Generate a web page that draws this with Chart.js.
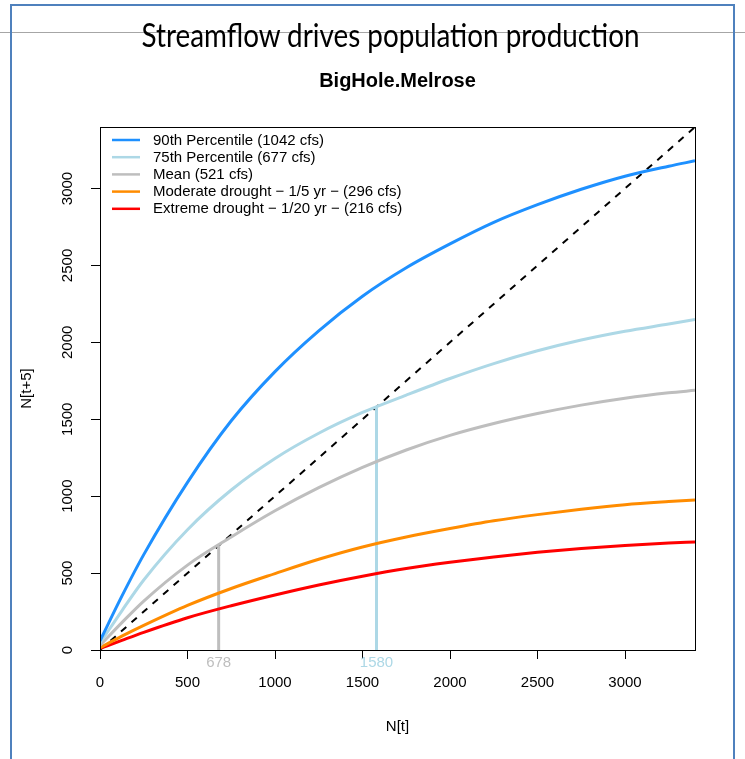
<!DOCTYPE html>
<html>
<head>
<meta charset="utf-8">
<script src="https://cdn.jsdelivr.net/npm/chart.js@4/dist/chart.umd.min.js"></script>
<style>
  html, body { margin: 0; padding: 0; background: #fff; width: 745px; height: 759px; overflow: hidden; }
  #wrap { position: relative; width: 745px; height: 759px; }
  #c { position: absolute; left: 0; top: 0; }
  #deco { position: absolute; left: 0; top: 0; pointer-events: none; }
</style>
</head>
<body>
<div id="wrap">
  <canvas id="c" width="745" height="759"></canvas>
  <svg id="deco" width="745" height="759" xmlns="http://www.w3.org/2000/svg">
    <line x1="0" y1="32.5" x2="745" y2="32.5" stroke="#A6A6A6" stroke-width="1"/>
    <polyline points="11,770 11,5 734,5 734,770" fill="none" stroke="#4F81BD" stroke-width="2"/>
    <text x="390.5" y="47.3" text-anchor="middle" textLength="498" lengthAdjust="spacingAndGlyphs"
          font-family="Lato, 'Open Sans', sans-serif" font-size="32" fill="#000">Streamflow drives population production</text>
    <text x="397.5" y="87.3" text-anchor="middle"
          font-family="'Liberation Sans', Arial, sans-serif" font-weight="bold" font-size="20" fill="#000">BigHole.Melrose</text>
  </svg>
</div>
<script>
// ---------- data ----------
const xValues     = [0, 125, 250, 500, 750, 1000, 1250, 1500, 1750, 2000, 2250, 2500, 2750, 3000, 3250, 3400];
const pct90       = [60, 350, 620, 1090, 1490, 1810, 2075, 2300, 2485, 2640, 2780, 2895, 2995, 3080, 3145, 3180];
const pct75       = [45, 255, 455, 782, 1040, 1245, 1409, 1544, 1657, 1765, 1862, 1945, 2015, 2072, 2119, 2148];
const meanFlow    = [30, 178, 318, 552, 735, 905, 1055, 1187, 1300, 1395, 1472, 1537, 1592, 1637, 1672, 1688];
const modDrought  = [15, 90, 160, 290, 400, 497, 590, 670, 735, 790, 840, 880, 915, 945, 965, 975];
const extDrought  = [10, 63, 115, 210, 288, 358, 423, 480, 530, 570, 605, 635, 660, 680, 695, 702];
const seriesNames = [
  '90th Percentile (1042 cfs)',
  '75th Percentile (677 cfs)',
  'Mean (521 cfs)',
  'Moderate drought \u2212 1/5 yr \u2212 (296 cfs)',
  'Extreme drought \u2212 1/20 yr \u2212 (216 cfs)'
];
const seriesColors = ['#1E90FF', '#ADD8E6', '#BEBEBE', '#FF8C00', '#FF0000'];
const replacementLine = [0, 3400];          // 1:1 line end points (x = y)
const equilibria      = [678, 1580];        // equilibrium N for Mean and 75th
const equilibriaColor = ['#BEBEBE', '#ADD8E6'];
const xTicks = [0, 500, 1000, 1500, 2000, 2500, 3000];
const yTicks = [0, 500, 1000, 1500, 2000, 2500, 3000];
const axisMax = 3400;

// ---------- build datasets ----------
const seriesValues = [pct90, pct75, meanFlow, modDrought, extDrought];
const datasets = [];
seriesValues.forEach((vals, i) => {
  datasets.push({
    label: seriesNames[i],
    data: xValues.map((x, k) => ({ x: x, y: vals[k] })),
    borderColor: seriesColors[i],
    borderWidth: 3,
    pointRadius: 0,
    cubicInterpolationMode: 'monotone',
    fill: false
  });
});
equilibria.forEach((e, i) => {
  datasets.push({
    label: 'eq' + i,
    data: [{ x: e, y: 0 }, { x: e, y: e }],
    borderColor: equilibriaColor[i],
    borderWidth: 3,
    pointRadius: 0,
    fill: false
  });
});
datasets.push({
  label: '1:1',
  data: replacementLine.map(v => ({ x: v, y: v })),
  borderColor: '#000',
  borderWidth: 2,
  borderDash: [7, 7],
  pointRadius: 0,
  fill: false
});

const FONT = "'Liberation Sans', Arial, sans-serif";

const boxPlugin = {
  id: 'box',
  afterDraw(chart) {
    const { ctx, chartArea: a } = chart;
    ctx.save();
    ctx.strokeStyle = '#000';
    ctx.lineWidth = 1;
    ctx.strokeRect(Math.round(a.left) + 0.5, Math.round(a.top) + 0.5, Math.round(a.right - a.left), Math.round(a.bottom - a.top));
    ctx.restore();
  }
};

const legendPlugin = {
  id: 'rlegend',
  afterDraw(chart) {
    const { ctx, chartArea: a } = chart;
    ctx.save();
    ctx.font = '15px ' + FONT;
    ctx.textBaseline = 'middle';
    ctx.textAlign = 'left';
    seriesNames.forEach((name, i) => {
      const y = a.top + 13 + i * 17.2;
      ctx.strokeStyle = seriesColors[i];
      ctx.lineWidth = 2.5;
      ctx.beginPath();
      ctx.moveTo(a.left + 12, y);
      ctx.lineTo(a.left + 40, y);
      ctx.stroke();
      ctx.fillStyle = '#000';
      ctx.fillText(name, a.left + 53, y + 0.5);
    });
    ctx.restore();
  }
};

const eqLabelPlugin = {
  id: 'eqlabels',
  afterDraw(chart) {
    const { ctx, chartArea: a } = chart;
    const xs = chart.scales.x;
    ctx.save();
    ctx.font = '15px ' + FONT;
    ctx.textAlign = 'center';
    ctx.textBaseline = 'middle';
    equilibria.forEach((e, i) => {
      ctx.fillStyle = equilibriaColor[i];
      ctx.fillText(String(e), xs.getPixelForValue(e), a.bottom + 12.5);
    });
    ctx.restore();
  }
};

new Chart(document.getElementById('c'), {
  type: 'line',
  data: { datasets },
  plugins: [boxPlugin, legendPlugin, eqLabelPlugin],
  options: {
    responsive: false,
    animation: false,
    devicePixelRatio: 1,
    layout: { padding: { left: 0, right: 50, top: 127, bottom: 0 } },
    plugins: { legend: { display: false }, tooltip: { enabled: false }, title: { display: false } },
    scales: {
      x: {
        type: 'linear', min: 0, max: axisMax,
        afterBuildTicks: s => { s.ticks = xTicks.map(v => ({ value: v })); },
        afterFit: s => { s.height = 109; },
        border: { display: false },
        grid: { display: true, drawOnChartArea: false, drawTicks: true, tickLength: 9, tickColor: '#000', color: '#000', lineWidth: 1 },
        ticks: { callback: v => String(v), color: '#000', padding: 15, maxRotation: 0, autoSkip: false, font: { family: FONT, size: 15 } },
        title: { display: true, text: 'N[t]', color: '#000', padding: { top: 0, bottom: 23 }, font: { family: FONT, size: 15 } }
      },
      y: {
        type: 'linear', min: 0, max: axisMax,
        afterBuildTicks: s => { s.ticks = yTicks.map(v => ({ value: v })); },
        afterFit: s => { s.width = 100; },
        border: { display: false },
        grid: { display: true, drawOnChartArea: false, drawTicks: true, tickLength: 9, tickColor: '#000', color: '#000', lineWidth: 1 },
        ticks: { callback: v => String(v), color: '#000', padding: 6, minRotation: 90, maxRotation: 90, crossAlign: 'center', autoSkip: false, font: { family: FONT, size: 15 } },
        title: { display: true, text: 'N[t+5]', color: '#000', padding: { top: 18, bottom: 0 }, font: { family: FONT, size: 15 } }
      }
    }
  }
});
</script>
</body>
</html>
